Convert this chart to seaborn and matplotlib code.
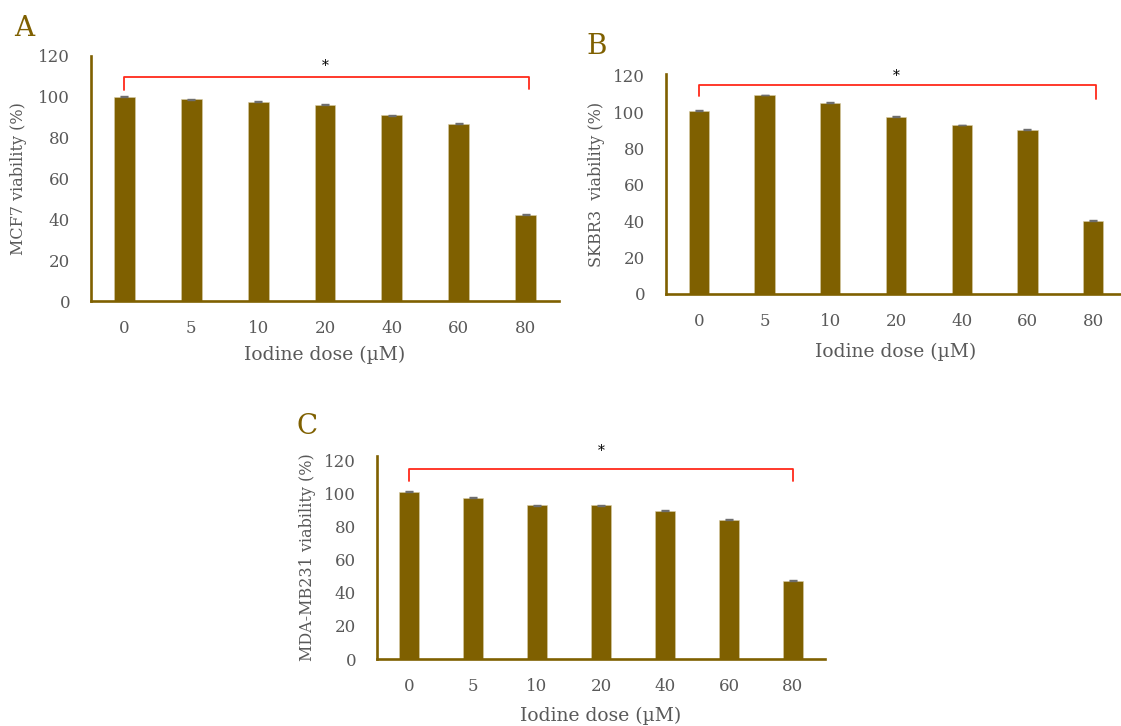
import matplotlib
matplotlib.use("Agg")
import matplotlib.pyplot as plt
import seaborn as sns
import pandas as pd

# Data
doses = ["0", "5", "10", "20", "40", "60", "80"]
mcf7_viability = [100.0, 98.7, 97.7, 96.2, 91.0, 86.8, 42.2]
skbr3_viability = [100.7, 109.4, 105.3, 97.4, 93.0, 90.4, 40.3]
mda_viability = [101.2, 97.8, 93.1, 93.1, 89.7, 84.4, 47.4]
mcf7_err = [0.3, 0.3, 0.3, 0.3, 0.3, 0.3, 0.3]
skbr3_err = [0.3, 0.2, 0.3, 0.3, 0.2, 0.3, 0.3]
mda_err = [0.3, 0.3, 0.2, 0.2, 0.3, 0.3, 0.3]
yticks = [0, 20, 40, 60, 80, 100, 120]

BROWN = "#7F6000"
GREY = "#595959"

sns.set_theme(style="white")
plt.rcParams["font.family"] = ["DejaVu Serif"]

W, H = 1121, 726
fig = plt.figure(figsize=(W / 100, H / 100), dpi=100)


def px_axes(left, right, bottom, top):
    return fig.add_axes([left / W, (H - bottom) / H, (right - left) / W, (bottom - top) / H])


def panel(ax, values, errs, ylabel, ytop, bracket, letter, letter_xy, xlab_y, ylab_x):
    df = pd.DataFrame({"dose": doses, "viability": values})
    sns.barplot(data=df, x="dose", y="viability", order=doses, color=BROWN,
                saturation=1, width=0.31, errorbar=None, ax=ax,
                edgecolor="#D8CCA8", linewidth=0.4)
    ax.errorbar(range(len(doses)), values, yerr=errs, fmt="none",
                ecolor="#6E6E6E", elinewidth=0.8, capsize=2.8, capthick=1.0)
    ax.set_xlim(-0.5, 6.5)
    ax.set_ylim(0, ytop)
    ax.set_yticks(yticks)
    ax.tick_params(axis="both", length=0, colors=GREY, labelsize=12)
    ax.tick_params(axis="y", pad=15)
    ax.tick_params(axis="x", pad=14)
    sns.despine(ax=ax)
    for s in ["left", "bottom"]:
        ax.spines[s].set_color(BROWN)
        ax.spines[s].set_linewidth(1.9)
    ax.set_xlabel("Iodine dose (\u00b5M)", fontsize=13.5, color=GREY, va="center")
    ax.set_ylabel(ylabel, fontsize=11.5, color=GREY, va="center")
    ax.xaxis.set_label_coords(0.5, xlab_y)
    ax.yaxis.set_label_coords(ylab_x, 0.5)

    # significance bracket
    x0, x1, yb, yl, yr, ys = bracket
    ax.plot([x0, x0, x1, x1], [yl, yb, yb, yr], color="#FF2A1A", lw=1.3, clip_on=False)
    ax.text(3, ys, "*", ha="center", va="center", fontsize=10, color="black")

    fig.text(letter_xy[0] / W, 1 - letter_xy[1] / H, letter, fontsize=20,
             color=BROWN, ha="center", va="center")


axA = px_axes(91, 559, 301, 56)
panel(axA, mcf7_viability, mcf7_err, "MCF7 viability (%)", 120,
      (0, 6.05, 109.8, 103.4, 103.8, 115), "A", (24, 28), -0.22, -0.155)

axB = px_axes(666, 1126, 294, 74)
panel(axB, skbr3_viability, skbr3_err, "SKBR3  viability (%)", 121,
      (0, 6.05, 114.8, 109, 107.2, 120), "B", (597, 46), -0.264, -0.152)

axC = px_axes(377, 825, 659, 456)
panel(axC, mda_viability, mda_err, "MDA-MB231 viability (%)", 123,
      (0, 6.0, 115.4, 108, 108, 126), "C", (307, 427), -0.28, -0.156)

fig.savefig("out.png", dpi=100)
